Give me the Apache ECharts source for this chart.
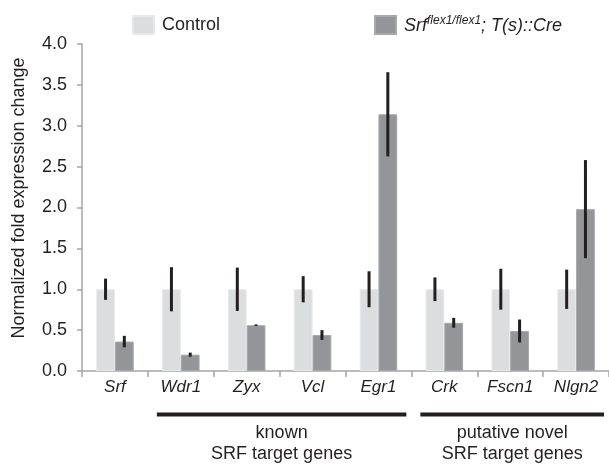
<!DOCTYPE html>
<html>
<head>
<meta charset="utf-8">
<script src="https://cdn.jsdelivr.net/npm/echarts@6/dist/echarts.min.js"></script>
<style>
  html, body { margin: 0; padding: 0; background: #fff; }
  #chart { width: 609px; height: 464px; }
</style>
</head>
<body>
<div id="chart"></div>
<script>
// genes on the x axis
const genes = ['Srf', 'Wdr1', 'Zyx', 'Vcl', 'Egr1', 'Crk', 'Fscn1', 'Nlgn2'];
// mean fold change
const controlVals = [1.0, 1.0, 1.0, 1.0, 1.0, 1.0, 1.0, 1.0];
const mutantVals = [0.36, 0.20, 0.56, 0.44, 3.14, 0.59, 0.49, 1.98];
// error (+/-)
const controlErr = [0.13, 0.27, 0.265, 0.16, 0.22, 0.145, 0.25, 0.24];
const mutantErr = [0.07, 0.025, 0.01, 0.06, 0.515, 0.06, 0.14, 0.60];
// y ticks
const yTicks = [0, 0.5, 1, 1.5, 2, 2.5, 3, 3.5, 4];
// groups under the axis
const groupLabels = ['known\nSRF target genes', 'putative novel\nSRF target genes'];
const groupFrom = ['Wdr1', 'Crk'];
const groupTo = ['Egr1', 'Nlgn2'];

const textColor = '#231f20';
const axisColor = '#a3a5a8';
const barFrac = 0.285;

const chart = echarts.init(document.getElementById('chart'));

// error bars, drawn through the axes
function errorRender(side) {
  return function (params, api) {
    const idx = api.value(0);
    const lo = api.coord([idx, api.value(1)]);
    const hi = api.coord([idx, api.value(2)]);
    const band = api.size([1, 0])[0];
    const dx = side * band * barFrac / 2;
    return {
      type: 'line',
      shape: { x1: lo[0] + dx, y1: lo[1], x2: hi[0] + dx, y2: hi[1] },
      style: { stroke: textColor, lineWidth: 3 }
    };
  };
}

const ctrlErrData = genes.map((g, i) => [i, controlVals[i] - controlErr[i], controlVals[i] + controlErr[i]]);
const mutErrData = genes.map((g, i) => [i, mutantVals[i] - mutantErr[i], mutantVals[i] + mutantErr[i]]);

const option = {
  animation: false,
  textStyle: { fontFamily: 'Liberation Sans, Arial, sans-serif' },
  legend: {
    left: 127,
    top: 10,
    itemWidth: 21,
    itemHeight: 18,
    itemGap: 154,
    icon: 'rect',
    data: ['Control', 'mutant'],
    formatter: function (name) {
      if (name === 'Control') return '{n|Control}';
      return '{i|Srf}{sup|flex1/flex1}{i|; T(s)::Cre}';
    },
    textStyle: {
      color: textColor,
      fontSize: 18,
      padding: [0, 0, 0, 3],
      rich: {
        n: { fontSize: 18, color: textColor, fontFamily: 'Liberation Sans' },
        i: { fontSize: 18, fontStyle: 'italic', color: textColor, fontFamily: 'Liberation Sans', verticalAlign: 'bottom', lineHeight: 20 },
        sup: { fontSize: 12, fontStyle: 'italic', color: textColor, fontFamily: 'Liberation Sans', verticalAlign: 'top', lineHeight: 20 }
      }
    }
  },
  grid: { left: 82, top: 44, width: 529, height: 327, containLabel: false },
  xAxis: {
    type: 'category',
    data: genes,
    axisLine: { lineStyle: { color: axisColor, width: 1.5 } },
    axisTick: { show: true, length: 6, lineStyle: { color: axisColor, width: 1.5 } },
    axisLabel: { color: textColor, fontSize: 17, fontStyle: 'italic', margin: 8 }
  },
  yAxis: {
    type: 'value',
    min: 0,
    max: 4,
    interval: 0.5,
    name: 'Normalized fold expression change',
    nameLocation: 'middle',
    nameGap: 54,
    nameTextStyle: { color: textColor, fontSize: 18, padding: [0, 0, 0, 19] },
    axisLine: { show: true, lineStyle: { color: axisColor, width: 1.5 } },
    axisTick: { show: true, length: 5, lineStyle: { color: axisColor, width: 1.5 } },
    axisLabel: {
      color: textColor,
      fontSize: 18,
      margin: 15,
      formatter: v => yTicks.includes(v) ? v.toFixed(1) : ''
    },
    splitLine: { show: false }
  },
  series: [
    {
      name: 'Control',
      type: 'bar',
      data: controlVals,
      barWidth: (barFrac * 100) + '%',
      barGap: '0%',
      itemStyle: { color: '#dcdddf', borderColor: '#e8e9ea', borderWidth: 1 }
    },
    {
      name: 'mutant',
      type: 'bar',
      data: mutantVals,
      barWidth: (barFrac * 100) + '%',
      barGap: '0%',
      itemStyle: { color: '#939598', borderColor: '#a6a8ab', borderWidth: 1 }
    },
    {
      type: 'custom',
      renderItem: errorRender(-1),
      data: ctrlErrData,
      encode: { x: 0, y: [1, 2] },
      z: 10
    },
    {
      type: 'custom',
      renderItem: errorRender(1),
      data: mutErrData,
      encode: { x: 0, y: [1, 2] },
      z: 10
    }
  ]
};

chart.setOption(option);

// group brackets below the category labels
const band = chart.convertToPixel({ xAxisIndex: 0 }, 1) - chart.convertToPixel({ xAxisIndex: 0 }, 0);
const graphics = [];
groupLabels.forEach((lab, k) => {
  const x1 = chart.convertToPixel({ xAxisIndex: 0 }, groupFrom[k]) - band / 2 + 9;
  const x2 = chart.convertToPixel({ xAxisIndex: 0 }, groupTo[k]) + band / 2 - 5;
  graphics.push({
    type: 'line',
    shape: { x1: x1, y1: 414.5, x2: x2, y2: 414.5 },
    style: { stroke: textColor, lineWidth: 4 }
  });
  graphics.push({
    type: 'text',
    x: (x1 + x2) / 2,
    y: 423,
    style: {
      text: lab,
      fill: textColor,
      font: '18px Liberation Sans',
      align: 'center',
      verticalAlign: 'top',
      lineHeight: 21
    }
  });
});
chart.setOption({ graphic: graphics });
</script>
</body>
</html>
